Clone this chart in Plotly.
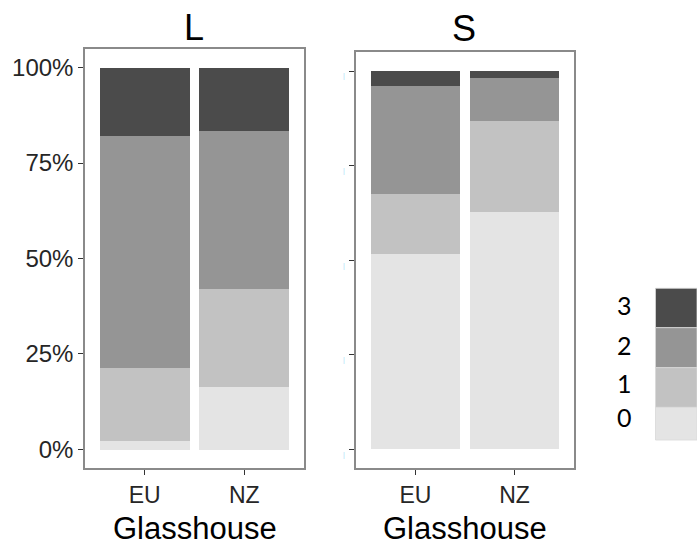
import plotly.graph_objects as go

W, H = 697, 547

# Share of plants in each score class (0-3) per glasshouse, by leaf type
glasshouses = ["EU", "NZ"]
panels = ["L", "S"]
levels = ["0", "1", "2", "3"]
level_colors = ["#e4e4e4", "#c2c2c2", "#959595", "#4b4b4b"]
x_title = "Glasshouse"

share_L = {
    "0": [0.022, 0.164],
    "1": [0.193, 0.257],
    "2": [0.606, 0.414],
    "3": [0.179, 0.165],
}
share_S = {
    "0": [0.516, 0.628],
    "1": [0.158, 0.240],
    "2": [0.287, 0.112],
    "3": [0.039, 0.020],
}

y_ticks = [0, 0.25, 0.5, 0.75, 1.0]
y_tick_text = ["0%", "25%", "50%", "75%", "100%"]


def px_x(px):
    return px / W


def px_y(py):
    return 1 - py / H


fig = go.Figure()

for axis_i, (panel, share) in enumerate([("L", share_L), ("S", share_S)]):
    xa = "x" if axis_i == 0 else "x2"
    ya = "y" if axis_i == 0 else "y2"
    for lvl, col in zip(levels, level_colors):
        fig.add_trace(go.Bar(
            x=glasshouses, y=share[lvl], name=lvl,
            marker=dict(color=col, line=dict(width=0)),
            width=0.9, xaxis=xa, yaxis=ya, showlegend=False,
        ))

font_main = "Liberation Sans, Arial, sans-serif"
tick_col = "#262626"
frame_col = "#8a8a8a"

common_x = dict(
    type="category", range=[-0.6, 1.6], showgrid=False, zeroline=False,
    showline=True, mirror=True, linecolor=frame_col, linewidth=1.5,
    ticks="outside", ticklen=5, tickwidth=1.3, tickcolor="#333333",
    tickfont=dict(family=font_main, size=23, color=tick_col),
    automargin=False,
)
common_y = dict(
    range=[-0.05, 1.05], showgrid=False, zeroline=False,
    showline=True, mirror=True, linecolor=frame_col, linewidth=1.5,
    ticks="outside", ticklen=5, tickwidth=1.3, tickcolor="#333333",
    tickvals=y_ticks, ticktext=y_tick_text,
    tickfont=dict(family=font_main, size=24, color=tick_col),
    automargin=False,
)

fig.update_layout(
    width=W, height=H,
    margin=dict(l=0, r=0, t=0, b=0),
    paper_bgcolor="white", plot_bgcolor="white",
    barmode="stack", bargap=0,
    showlegend=False,
    xaxis=dict(common_x, domain=[px_x(85), px_x(304)], anchor="y"),
    yaxis=dict(common_y, domain=[px_y(468.4), px_y(48.6)], anchor="x"),
    xaxis2=dict(common_x, domain=[px_x(356), px_x(574)], anchor="y2"),
    yaxis2=dict(common_y, domain=[px_y(468.2), px_y(52.1)], anchor="x2",
                ticktext=["|"] * len(y_ticks),
                tickfont=dict(family=font_main, size=7, color="#a6ddf7"),
                ticklabelstandoff=3, ticklabelshift=5),
)

# Facet strip titles and x-axis titles under each panel
for panel, cx, cy in [("L", 194, 27), ("S", 464, 29)]:
    fig.add_annotation(
        text=panel, x=px_x(cx), y=px_y(cy), xref="paper", yref="paper",
        showarrow=False, xanchor="center", yanchor="middle",
        font=dict(family=font_main, size=36, color="#000000"),
    )
for cx in [195, 465]:
    fig.add_annotation(
        text=x_title, x=px_x(cx), y=0, xref="paper", yref="paper",
        showarrow=False, xanchor="center", yanchor="bottom", borderpad=0,
        font=dict(family=font_main, size=31, color="#000000"),
    )

# Legend key: colour swatches with level labels, top level first
key_edges = [288.3, 327.7, 367.7, 407.3, 440.0]
label_y = [305, 345, 383, 417]
for i, lvl in enumerate(reversed(levels)):
    col = level_colors[levels.index(lvl)]
    fig.add_shape(
        type="rect", xref="paper", yref="paper",
        x0=px_x(655.5), x1=1.0, y0=px_y(key_edges[i + 1]), y1=px_y(key_edges[i]),
        fillcolor=col, line=dict(color="#d8d8d8", width=0.8), layer="above",
    )
    fig.add_annotation(
        text=lvl, x=px_x(624), y=px_y(label_y[i]), xref="paper", yref="paper",
        showarrow=False, xanchor="center", yanchor="middle",
        font=dict(family="Lato, Carlito, sans-serif", size=25, color="#000000"),
    )

fig.write_html("out.html")
